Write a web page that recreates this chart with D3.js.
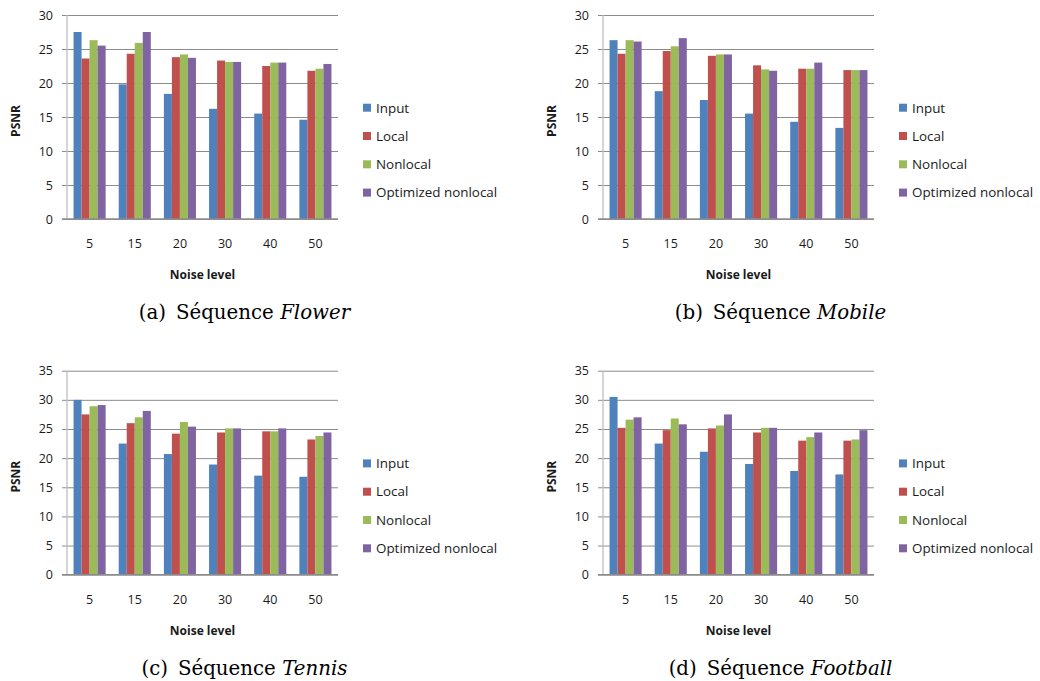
<!DOCTYPE html>
<html><head><meta charset="utf-8">
<script src="https://cdn.jsdelivr.net/npm/d3@7"></script>
<style>
html,body{margin:0;padding:0;background:#fff;}
svg{display:block;}
.tick text{font-family:"Open Sans",sans-serif;}
</style></head>
<body>
<script>
const categories = ["5","15","20","30","40","50"];
const seriesNames = ["Input","Local","Nonlocal","Optimized nonlocal"];
const seriesColors = ["#4F81BD","#C0504D","#9BBB59","#8064A2"];
const captionsLetter = ["(a)","(b)","(c)","(d)"];
const captionsName = ["Flower","Mobile","Tennis","Football"];
const yMaxes = [30,30,35,35];

// values by series: Input, Local, Nonlocal, Optimized nonlocal
const flowerPSNR = [
  [27.5,19.8,18.4,16.2,15.5,14.6],
  [23.6,24.3,23.8,23.3,22.5,21.8],
  [26.3,25.9,24.2,23.1,23.0,22.1],
  [25.5,27.5,23.7,23.1,23.0,22.8]
];
const mobilePSNR = [
  [26.3,18.8,17.5,15.5,14.3,13.4],
  [24.3,24.7,24.0,22.6,22.1,21.9],
  [26.3,25.4,24.2,22.0,22.1,21.9],
  [26.1,26.6,24.2,21.8,23.0,21.9]
];
const tennisPSNR = [
  [30.0,22.5,20.7,18.9,17.0,16.8],
  [27.5,26.0,24.2,24.4,24.6,23.2],
  [28.9,27.0,26.2,25.1,24.6,23.8],
  [29.1,28.1,25.4,25.1,25.1,24.4]
];
const footballPSNR = [
  [30.5,22.5,21.1,19.0,17.8,17.2],
  [25.2,24.8,25.1,24.4,23.0,23.0],
  [26.6,26.8,25.6,25.2,23.6,23.2],
  [27.0,25.8,27.5,25.2,24.4,24.8]
];
const allData = [flowerPSNR, mobilePSNR, tennisPSNR, footballPSNR];

const W = 1040, H = 681;
const svg = d3.select("body").append("svg").attr("width",W).attr("height",H);

const panels = [
  {x0:67,  y0:15},
  {x0:603, y0:15},
  {x0:67,  y0:370.7},
  {x0:603, y0:370.7}
];
const plotW = 271, plotH = 204;

panels.forEach((p,i)=>{
  const g = svg.append("g");
  const x0 = d3.scaleBand().domain(categories).range([p.x0, p.x0+plotW]).paddingInner(0.29).paddingOuter(0.145);
  const x1 = d3.scaleBand().domain(seriesNames).range([0, x0.bandwidth()]);
  const y = d3.scaleLinear().domain([0, yMaxes[i]]).range([p.y0+plotH, p.y0]);

  // gridlines + y ticks
  const yAxis = d3.axisLeft(y).tickValues(d3.range(0, yMaxes[i]+1, 5)).tickSize(-(plotW+5)).tickPadding(9).tickSizeOuter(0);
  const ya = g.append("g").attr("transform",`translate(${p.x0-5},0)`).call(yAxis);
  ya.select(".domain").remove();
  ya.selectAll(".tick line").attr("stroke","#8c8c8c").attr("stroke-width",1);
  ya.selectAll(".tick text").attr("font-size","12.5px").attr("fill","#1a1a1a").attr("x",-9);

  // bars
  const data = allData[i];
  seriesNames.forEach((s,si)=>{
    g.append("g").selectAll("rect").data(categories).join("rect")
      .attr("x", c=> x0(c)+x1(s))
      .attr("width", x1.bandwidth())
      .attr("y", (c,ci)=> y(data[si][ci]))
      .attr("height", (c,ci)=> y(0)-y(data[si][ci]))
      .attr("fill", seriesColors[si]);
  });

  // y axis line
  g.append("line").attr("x1",p.x0).attr("x2",p.x0).attr("y1",p.y0).attr("y2",p.y0+plotH)
    .attr("stroke","#bfbfbf").attr("stroke-width",1.3);
  // x axis line
  g.append("line").attr("x1",p.x0-5).attr("x2",p.x0+plotW).attr("y1",p.y0+plotH).attr("y2",p.y0+plotH)
    .attr("stroke","#8c8c8c").attr("stroke-width",1.3);

  // x labels
  const xAxis = d3.axisBottom(x0).tickSize(0).tickPadding(0);
  const xa = g.append("g").attr("transform",`translate(0,${p.y0+plotH})`).call(xAxis);
  xa.select(".domain").remove();
  xa.selectAll(".tick text").attr("font-size","12.5px").attr("fill","#1a1a1a").attr("dy",null).attr("y",29);

  // axis titles
  g.append("text").attr("x", p.x0+plotW/2).attr("y", p.y0+plotH+60)
    .attr("text-anchor","middle").attr("font-family","Open Sans, sans-serif").attr("font-weight","bold")
    .attr("font-size","12px").attr("fill","#1a1a1a").text("Noise level");
  g.append("text").attr("transform",`translate(${p.x0-47},${p.y0+plotH/2+4}) rotate(-90)`)
    .attr("text-anchor","middle").attr("font-family","Open Sans, sans-serif").attr("font-weight","bold")
    .attr("font-size","12px").attr("fill","#1a1a1a").text("PSNR");

  // legend
  const lg = g.append("g").attr("transform",`translate(${p.x0+plotW+25},${p.y0+92.7})`);
  seriesNames.forEach((s,si)=>{
    lg.append("rect").attr("x",0).attr("y",si*28.3-4).attr("width",8).attr("height",8).attr("fill",seriesColors[si]);
    lg.append("text").attr("x",13).attr("y",si*28.3+4.8).attr("font-family","Open Sans, sans-serif")
      .attr("font-size","13.4px").attr("fill","#1a1a1a").text(s);
  });

  // caption
  const cap = g.append("text").attr("x", p.x0+plotW/2+42).attr("y", p.y0+plotH+100)
    .attr("text-anchor","middle").attr("font-family","DejaVu Serif, serif").attr("font-size","19.8px").attr("fill","#000");
  cap.append("tspan").text(captionsLetter[i] + "\u2002Séquence ");
  cap.append("tspan").attr("font-style","italic").text(captionsName[i]);
});
</script>
</body></html>
